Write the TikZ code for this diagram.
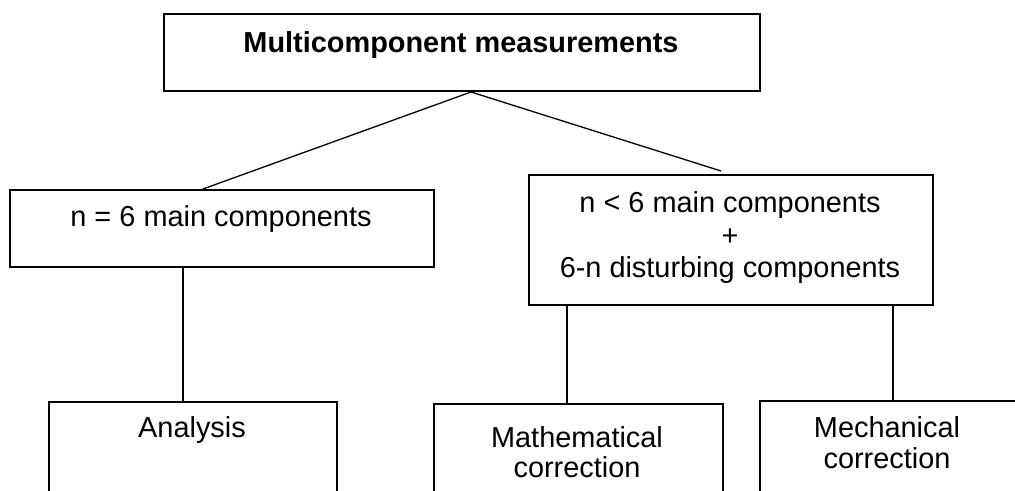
\documentclass[tikz,border=0pt]{standalone}
\usepackage{fontspec}
\setmainfont{Liberation Sans}
\begin{document}
\begin{tikzpicture}[x=1bp,y=-1bp,
  box/.style={draw=black, line width=2bp, inner sep=0pt, anchor=north west, fill=white},
  conn/.style={draw=black, line width=1.3bp},
  lbl/.style={anchor=base, inner sep=0pt, font=\fontsize{29}{32}\selectfont, align=center}]
\clip (0,0) rectangle (1015,491);
\fill[white] (0,0) rectangle (1015,491);
% boxes
\node[box, minimum width=596bp, minimum height=77bp] (top) at (163,13) {};
\node[box, minimum width=424bp, minimum height=77bp] (left) at (9,189) {};
\node[box, minimum width=404bp, minimum height=130bp] (right) at (528,174) {};
\node[box, minimum width=288bp, minimum height=120bp] (ana) at (48,401) {};
\node[box, minimum width=289bp, minimum height=120bp] (math) at (433,403) {};
\node[box, minimum width=300bp, minimum height=120bp] (mech) at (759,400) {};
% texts
\node[lbl, font=\fontsize{29}{32}\selectfont\bfseries] (ttop) at (461,53) {Multicomponent measurements};
\node[lbl] (tleft) at (221,227) {n = 6 main components};
\node[lbl] (tr1) at (730,213) {n < 6 main components};
\node[lbl] (tr2) at (730,246) {+};
\node[lbl] (tr3) at (730,278) {6-n disturbing components};
\node[lbl] (tana) at (192,437) {Analysis};
\node[lbl] (tm1) at (577,447) {Mathematical};
\node[lbl] (tm2) at (577,477) {correction};
\node[lbl] (tk1) at (887,437) {Mechanical};
\node[lbl] (tk2) at (887,468) {correction};
% connectors
\coordinate (apex) at (471,92);
\coordinate (rend) at (721,171);
\draw[conn] (apex) -- (left.north west -| 203,0);
\draw[conn] (apex) -- (rend);
\draw[conn] (left.south west -| 183,0) -- (ana.north west -| 183,0);
\draw[conn] (right.south west -| 567,0) -- (math.north west -| 567,0);
\draw[conn] (right.south west -| 893,0) -- (mech.north west -| 893,0);
\end{tikzpicture}
\end{document}
